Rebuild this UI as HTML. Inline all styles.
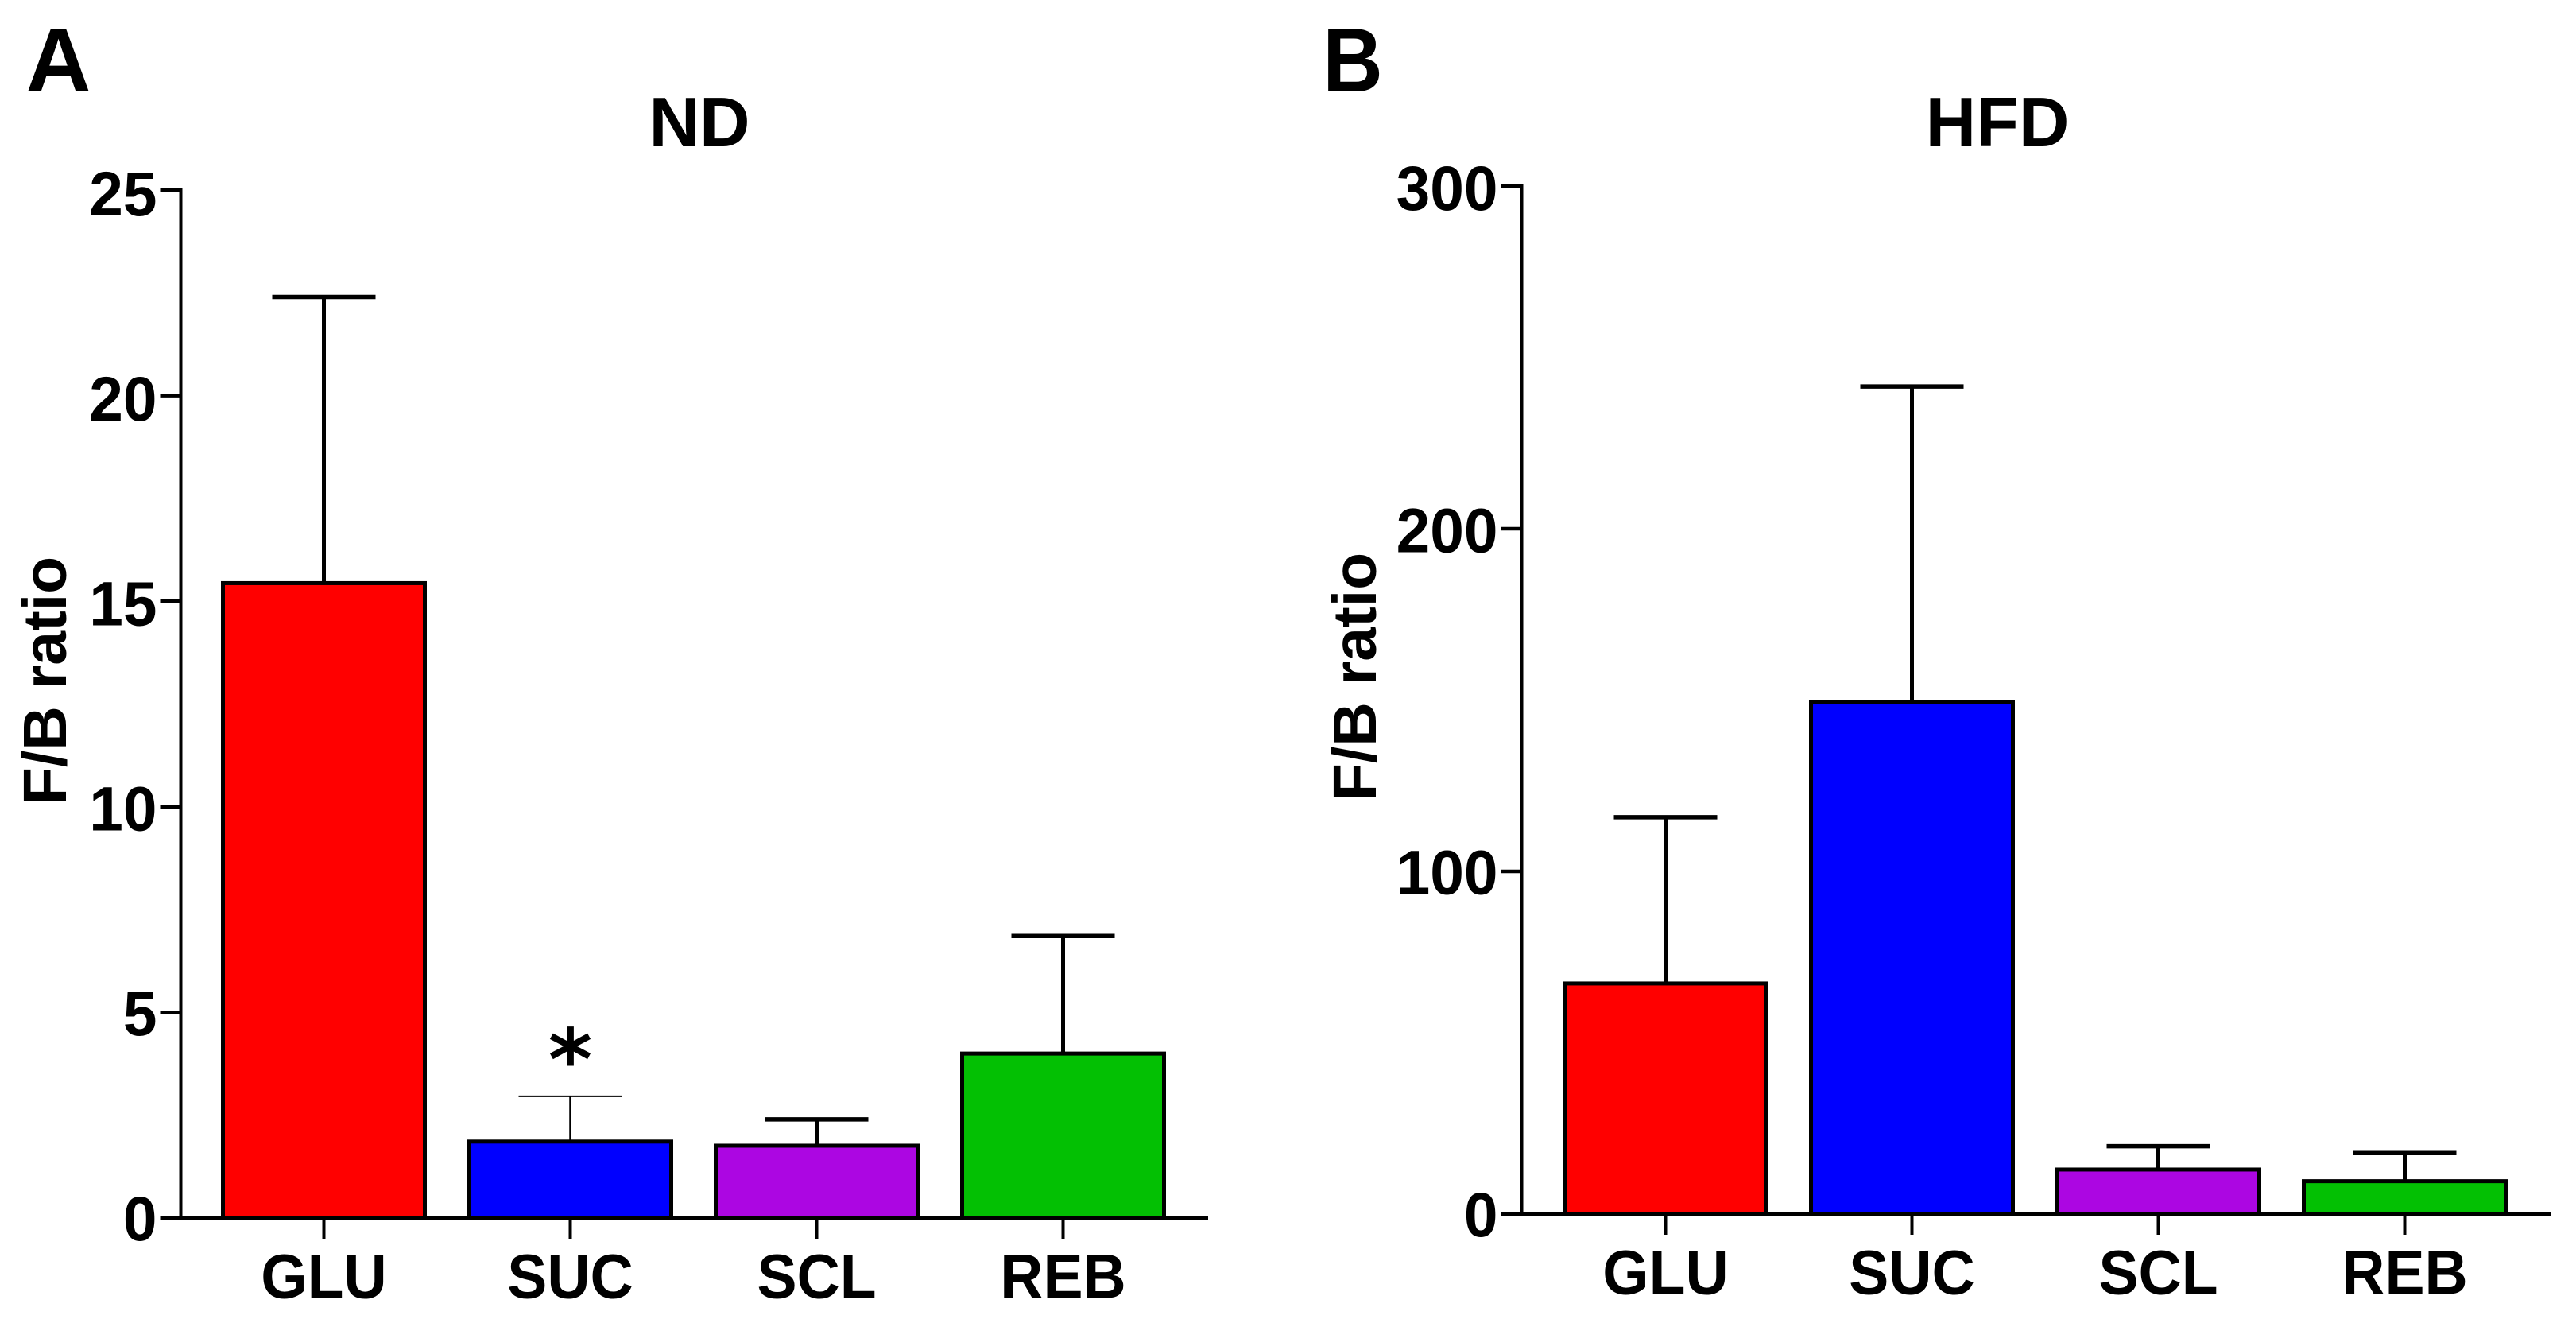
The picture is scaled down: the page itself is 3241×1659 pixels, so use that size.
<!DOCTYPE html>
<html lang="en">
<head>
<meta charset="utf-8">
<title>F/B ratio in ND and HFD groups</title>
<style>
  html, body { margin: 0; padding: 0; background: #ffffff; }
  svg { display: block; }
  text { font-family: "Liberation Sans", Arial, sans-serif; font-weight: 700; fill: #000; }
  .panel-letter { font-size: 114px; text-anchor: middle; }
  .panel-title { font-size: 88px; text-anchor: middle; }
  .axis-title { font-size: 77px; text-anchor: middle; }
  .tick-label { font-size: 79px; }
  .sig { font-family: "DejaVu Sans", sans-serif; font-size: 106px; text-anchor: middle; }
</style>
</head>
<body>
<svg id="figure" xmlns="http://www.w3.org/2000/svg" width="3241" height="1659" viewBox="0 0 3241 1659">
  <rect x="0" y="0" width="3241" height="1659" fill="#ffffff"/>
  <text class="panel-letter" x="73.5" y="115">A</text>
  <text class="panel-letter" transform="translate(1702 115) scale(.92 1)">B</text>
  <text class="panel-title" x="880" y="184">ND</text>
  <text class="panel-title" x="2513" y="184">HFD</text>
  <text class="axis-title" transform="translate(83 856) rotate(-90)">F/B ratio</text>
  <text class="axis-title" transform="translate(1731 851) rotate(-90)">F/B ratio</text>
  <g id="panel-nd"></g>
  <g id="panel-hfd"></g>
  <text class="sig" x="717.5" y="1370">*</text>
</svg>
<script>
const categories = ['GLU', 'SUC', 'SCL', 'REB'];
const ndMeans = [15.44, 1.86, 1.76, 4.0];
const ndErrorTops = [22.4, 2.96, 2.4, 6.86];
const ndTicks = [0, 5, 10, 15, 20, 25];
const hfdMeans = [67.3, 149.4, 13, 9.6];
const hfdErrorTops = [115.8, 241.5, 19.8, 17.8];
const hfdTicks = [0, 100, 200, 300];
const barColors = ['#ff0000', '#0000ff', '#ac06e2', '#03c003'];

const SVG_NS = 'http://www.w3.org/2000/svg';

function make(parent, tag, attrs) {
  const el = document.createElementNS(SVG_NS, tag);
  for (const key in attrs) el.setAttribute(key, attrs[key]);
  parent.appendChild(el);
  return el;
}

function drawPanel(group, key, means, errorTops, ticks, layout) {
  const yMax = ticks[ticks.length - 1];
  const yScale = function (v) {
    return layout.zeroY - (v / yMax) * layout.plotHeight;
  };
  const labelBaseline = function (v) {
    return layout.labelZeroY - (v / yMax) * layout.labelHeight;
  };
  const xScale = function (i) {
    return layout.firstX + i * layout.step;
  };

  categories.forEach(function (cat, i) {
    const cx = xScale(i);
    const thin = layout.thinError === cat;

    const stem = make(group, 'line', { x1: cx, x2: cx, y1: yScale(errorTops[i]), y2: yScale(means[i]), stroke: '#000', 'stroke-width': thin ? 2.5 : 5 });
    
    

    const cap = make(group, 'line', { x1: cx - 65, x2: cx + 65, y1: yScale(errorTops[i]), y2: yScale(errorTops[i]), stroke: '#000', 'stroke-width': thin ? 2 : 5.5 });
    
    

    const bar = make(group, 'rect', { x: cx - 127, y: yScale(means[i]), width: 254, height: yScale(0) - yScale(means[i]), fill: barColors[i], stroke: '#000', 'stroke-width': 5 });
    
    

    const tick = make(group, 'line', { x1: cx, x2: cx, y1: yScale(0), y2: yScale(0) + 26, stroke: '#000', 'stroke-width': 4 });
    
    

    const label = make(group, 'text', { class: 'tick-label', 'text-anchor': 'middle', transform: 'translate(' + cx + ' ' + (yScale(0) + 100.7) + ') scale(.95 1)' });
    label.textContent = cat;
    
    
  });

  const yAxis = make(group, 'line', { x1: layout.axisX, x2: layout.axisX, y1: yScale(yMax) - 2, y2: yScale(0), stroke: '#000', 'stroke-width': 4 });
  
  

  const xAxis = make(group, 'line', { x1: layout.axisX - 26, x2: layout.axisEnd, y1: yScale(0), y2: yScale(0), stroke: '#000', 'stroke-width': 5 });
  
  

  ticks.forEach(function (t) {
    if (t !== 0) {
      const yTick = make(group, 'line', { x1: layout.axisX - 26, x2: layout.axisX, y1: yScale(t), y2: yScale(t), stroke: '#000', 'stroke-width': 4.5 });
      
      
    }
    const yLabel = make(group, 'text', { class: 'tick-label', 'text-anchor': 'end', transform: 'translate(' + (layout.axisX - 30) + ' ' + labelBaseline(t) + ') scale(.97 1)' });
    yLabel.textContent = String(t);
    
    
  });
}

drawPanel(document.getElementById('panel-nd'), 'nd', ndMeans, ndErrorTops, ndTicks,
  { zeroY: 1532, plotHeight: 1293, labelZeroY: 1560, labelHeight: 1289, firstX: 407.5, step: 310, axisX: 227.5, axisEnd: 1520, thinError: 'SUC' });
drawPanel(document.getElementById('panel-hfd'), 'hfd', hfdMeans, hfdErrorTops, hfdTicks,
  { zeroY: 1527, plotHeight: 1293, labelZeroY: 1555, labelHeight: 1291, firstX: 2095.5, step: 310, axisX: 1914.5, axisEnd: 3209, thinError: null });
</script>
</body>
</html>
